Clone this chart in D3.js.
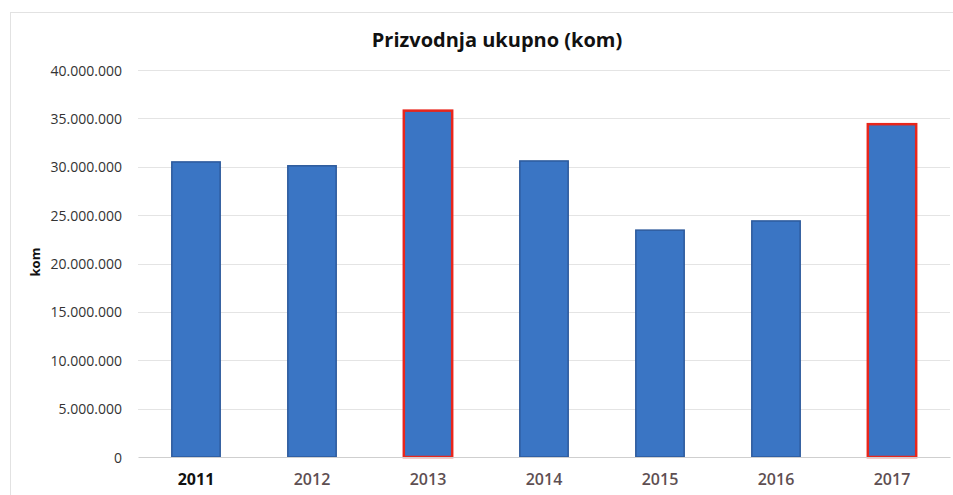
<!DOCTYPE html>
<html>
<head>
<meta charset="utf-8">
<script src="https://cdn.jsdelivr.net/npm/d3@7"></script>
<style>
  html, body { margin: 0; padding: 0; background: #fff; }
  svg { display: block; }
</style>
</head>
<body>
<svg id="chart" width="953" height="495"></svg>
<script>
// ---- data ----
const years = ["2011", "2012", "2013", "2014", "2015", "2016", "2017"];
const production = [30500000, 30100000, 35800000, 30600000, 23450000, 24400000, 34400000];
const highlighted = ["2013", "2017"];
const yTicks = [0, 5000000, 10000000, 15000000, 20000000, 25000000, 30000000, 35000000, 40000000];
const titleText = "Prizvodnja ukupno (kom)";
const yAxisTitle = "kom";

// ---- layout ----
const W = 953, H = 495;
const plot = { left: 138, right: 950, top: 70, bottom: 457 };
const svg = d3.select("#chart");

const locale = d3.formatLocale({ decimal: ",", thousands: ".", grouping: [3], currency: ["", ""] });
const fmt = locale.format(",d");

const x = d3.scaleBand().domain(years).range([plot.left, plot.right]).paddingInner(0.583).paddingOuter(0.2915);
const y = d3.scaleLinear().domain([0, 40000000]).range([plot.bottom, plot.top]);

// chart frame (faint)
svg.append("line").attr("x1", 10.5).attr("x2", 10.5).attr("y1", 12).attr("y2", H).attr("stroke", "#e2e2e2").attr("stroke-width", 1);
svg.append("line").attr("x1", 10).attr("x2", W).attr("y1", 12.5).attr("y2", 12.5).attr("stroke", "#e2e2e2").attr("stroke-width", 1);

// gridlines
svg.append("g").selectAll("line").data(yTicks.filter(d => d > 0)).join("line")
  .attr("x1", plot.left).attr("x2", plot.right)
  .attr("y1", d => Math.round(y(d)) + 0.5).attr("y2", d => Math.round(y(d)) + 0.5)
  .attr("stroke", "#e4e4e4").attr("stroke-width", 1);

// y axis labels
const yAxis = d3.axisLeft(y).tickValues(yTicks).tickFormat(fmt).tickSize(0).tickPadding(16);
const gy = svg.append("g").attr("transform", `translate(${plot.left},0)`).call(yAxis);
gy.select(".domain").remove();
gy.selectAll("text")
  .attr("font-family", "'Open Sans', sans-serif")
  .attr("font-size", 14)
  .attr("fill", "#333")
  .attr("dy", "0.36em");

// bars
svg.append("g").selectAll("rect").data(years).join("rect")
  .attr("x", d => x(d))
  .attr("width", x.bandwidth())
  .attr("y", (d, i) => y(production[i]))
  .attr("height", (d, i) => y(0) - y(production[i]))
  .attr("fill", "#3a75c4")
  .attr("stroke", d => highlighted.includes(d) ? "#e8261c" : "#2d5a9c")
  .attr("stroke-width", d => highlighted.includes(d) ? 2.5 : 1.5);

// baseline axis
const xAxis = d3.axisBottom(x).tickSize(0).tickPadding(17);
const gx = svg.append("g").attr("transform", `translate(0,${plot.bottom})`).call(xAxis);
gx.select(".domain").attr("stroke", "#cfcfcf").attr("stroke-width", 1.2);
gx.selectAll("text")
  .attr("font-family", "'Open Sans', sans-serif")
  .attr("font-size", 16)
  .attr("font-weight", d => d === "2011" ? 700 : 600)
  .attr("fill", d => d === "2011" ? "#111" : "#5e4f52");

// title
svg.append("text")
  .attr("x", 497).attr("y", 47)
  .attr("text-anchor", "middle")
  .attr("font-family", "'Open Sans', sans-serif")
  .attr("font-weight", 700)
  .attr("font-size", 20)
  .attr("fill", "#111")
  .text(titleText);

// y axis title
svg.append("text")
  .attr("transform", `translate(40,262) rotate(-90)`)
  .attr("text-anchor", "middle")
  .attr("font-family", "'Open Sans', sans-serif")
  .attr("font-weight", 700)
  .attr("font-size", 13)
  .attr("fill", "#111")
  .text(yAxisTitle);
</script>
</body>
</html>
